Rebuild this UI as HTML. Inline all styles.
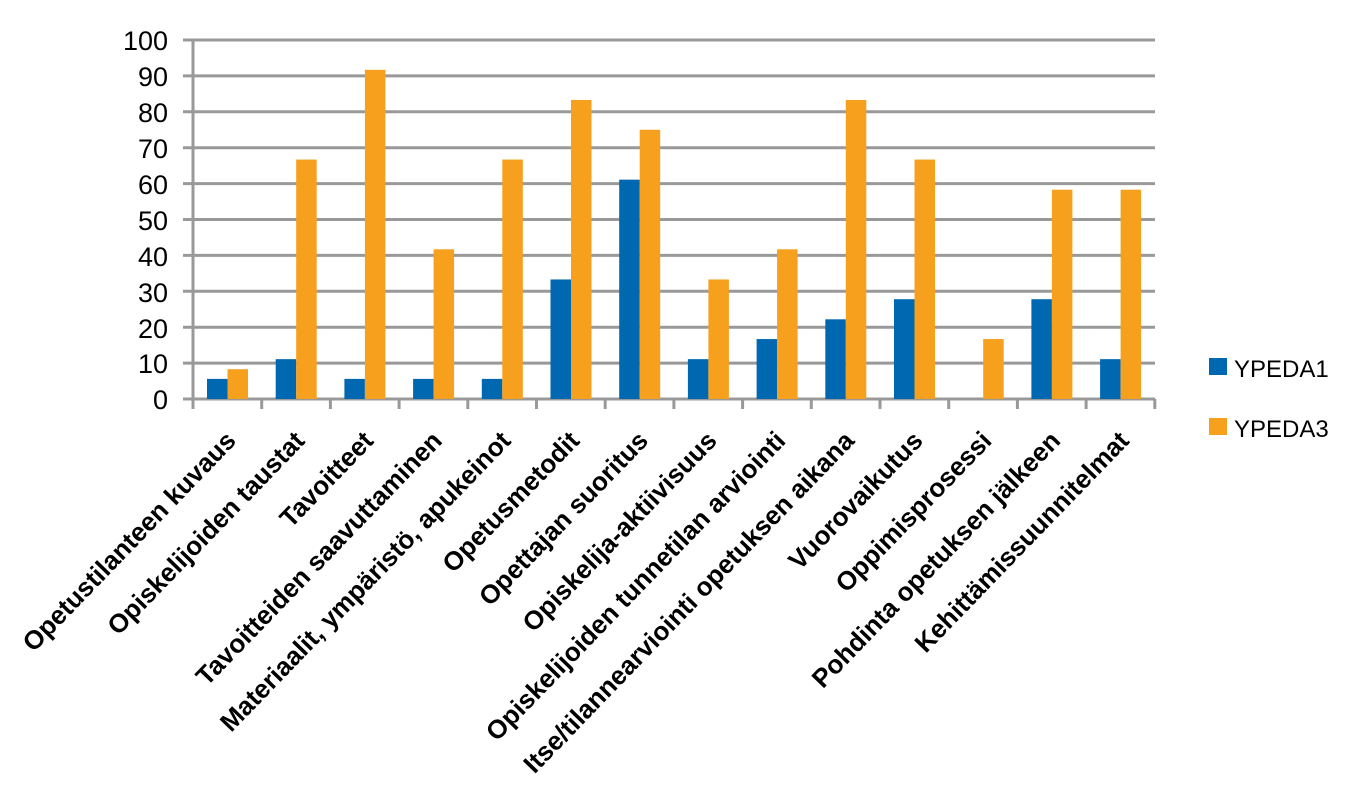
<!DOCTYPE html>
<html><head><meta charset="utf-8"><style>body{margin:0;background:#fff}svg{display:block}</style></head><body>
<svg width="1371" height="789" xmlns="http://www.w3.org/2000/svg" font-family="Liberation Sans, sans-serif">
<g stroke="#999" stroke-width="3">
<line x1="183" x2="1155" y1="40" y2="40"/><line x1="183" x2="1155" y1="75.9" y2="75.9"/><line x1="183" x2="1155" y1="111.8" y2="111.8"/><line x1="183" x2="1155" y1="147.7" y2="147.7"/><line x1="183" x2="1155" y1="183.6" y2="183.6"/><line x1="183" x2="1155" y1="219.5" y2="219.5"/><line x1="183" x2="1155" y1="255.4" y2="255.4"/><line x1="183" x2="1155" y1="291.3" y2="291.3"/><line x1="183" x2="1155" y1="327.2" y2="327.2"/><line x1="183" x2="1155" y1="363.1" y2="363.1"/><line x1="183" x2="1155" y1="399" y2="399"/>
<line x1="193" x2="193" y1="40" y2="409"/>
</g>
<g id="ticks" stroke="#999" stroke-width="3"></g>
<g id="bars"></g>
<g font-size="27" text-anchor="end" fill="#000">
<text x="168" y="50">100</text><text x="168" y="86">90</text><text x="168" y="122">80</text><text x="168" y="158">70</text><text x="168" y="194">60</text><text x="168" y="230">50</text><text x="168" y="266">40</text><text x="168" y="302">30</text><text x="168" y="338">20</text><text x="168" y="373">10</text><text x="168" y="409">0</text>
</g>
<g id="labels" font-size="26" font-weight="bold" text-anchor="end"></g>
<rect x="1209" y="358" width="18" height="17" fill="#0068b0"/>
<text x="1234" y="377" font-size="24">YPEDA1</text>
<rect x="1209" y="418" width="18" height="17" fill="#f7a01e"/>
<text x="1234" y="437" font-size="24">YPEDA3</text>
<script>
var b=[5.6,11.1,5.6,5.6,5.6,33.3,61.1,11.1,16.7,22.2,27.8,0,27.8,11.1];
var o=[8.3,66.7,91.7,41.7,66.7,83.3,75,33.3,41.7,83.3,66.7,16.7,58.3,58.3];
var L=["Opetustilanteen kuvaus","Opiskelijoiden taustat","Tavoitteet","Tavoitteiden saavuttaminen","Materiaalit, ympäristö, apukeinot","Opetusmetodit","Opettajan suoritus","Opiskelija-aktiivisuus","Opiskelijoiden tunnetilan arviointi","Itse/tilannearviointi opetuksen aikana","Vuorovaikutus","Oppimisprosessi","Pohdinta opetuksen jälkeen","Kehittämissuunnitelmat"];
var ns="http://www.w3.org/2000/svg",w=68.7,x0=193,s=3.59;
function el(t,a,p,txt){var e=document.createElementNS(ns,t);for(var k in a)e.setAttribute(k,a[k]);if(txt)e.textContent=txt;document.getElementById(p).appendChild(e);}
for(var i=0;i<14;i++){var x=x0+i*w;
el("line",{x1:x+w,x2:x+w,y1:399,y2:409},"ticks");
var hb=b[i]*s,ho=o[i]*s;
if(hb>0)el("rect",{x:x+14,y:399-hb,width:20.5,height:hb,fill:"#0068b0"},"bars");
el("rect",{x:x+34.5,y:399-ho,width:20.5,height:ho,fill:"#f7a01e"},"bars");
var cx=x+w/2+10,cy=442;
el("text",{x:cx,y:cy,transform:"rotate(-46 "+cx+" "+cy+")"},"labels",L[i]);}
</script>
</svg>
</body></html>
